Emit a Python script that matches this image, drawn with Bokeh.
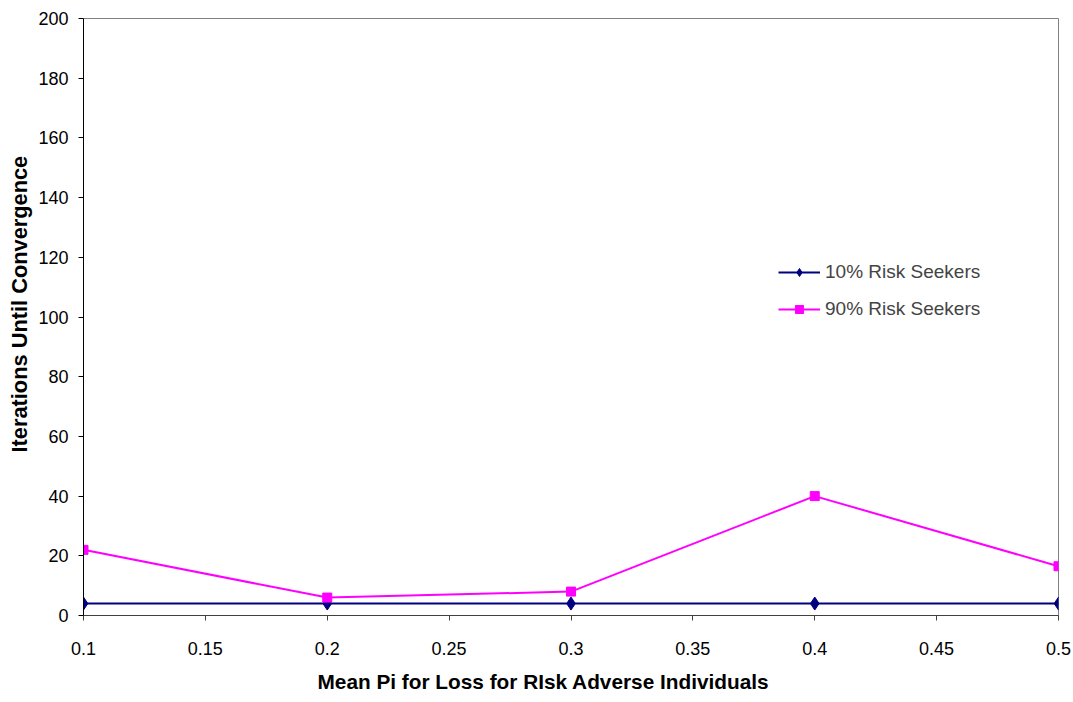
from bokeh.plotting import figure
from bokeh.models import Range1d, FixedTicker, Legend, LegendItem, Title
from bokeh.embed import file_html
from bokeh.resources import INLINE

x_vals = [0.1, 0.2, 0.3, 0.4, 0.5]
seek10 = [4, 4, 4, 4, 4]
seek90 = [22, 6, 8, 40, 16.5]
x_ticks = [0.1, 0.15, 0.2, 0.25, 0.3, 0.35, 0.4, 0.45, 0.5]
x_tick_labels = ["0.1", "0.15", "0.2", "0.25", "0.3", "0.35", "0.4", "0.45", "0.5"]
y_ticks = [0, 20, 40, 60, 80, 100, 120, 140, 160, 180, 200]
series_names = ["10% Risk Seekers", "90% Risk Seekers"]
x_title = "Mean Pi for Loss for RIsk Adverse Individuals"
y_title = "Iterations Until Convergence"

FONT = "Liberation Sans"

p = figure(width=1073, height=702, output_backend="svg", toolbar_location=None,
           x_range=Range1d(0.1, 0.5), y_range=Range1d(0, 200),
           min_border_left=0, min_border_right=15, min_border_top=18, min_border_bottom=0)
p.xgrid.visible = False
p.ygrid.visible = False
p.outline_line_color = "#808080"
p.outline_line_width = 1

p.xaxis.ticker = FixedTicker(ticks=x_ticks)
p.xaxis.major_label_overrides = {t: l for t, l in zip(x_ticks, x_tick_labels)}
p.yaxis.ticker = FixedTicker(ticks=y_ticks)
for ax in (p.xaxis, p.yaxis):
    ax.minor_tick_line_color = None
    ax.major_tick_in = 0
    ax.major_tick_out = 5
    ax.major_label_text_font = FONT
    ax.major_label_text_font_size = "18px"
    ax.major_label_text_color = "black"
p.xaxis.axis_line_color = "#404040"
p.xaxis.major_tick_line_color = "#404040"
p.yaxis.axis_line_color = "black"
p.yaxis.major_tick_line_color = "black"
p.xaxis.major_label_standoff = 21
p.yaxis.major_label_standoff = 10

xt = Title(text=x_title, align="left", offset=234, text_font=FONT, text_font_size="20.8px",
           text_font_style="bold", text_color="black", standoff=20)
p.add_layout(xt, "below")
yt = Title(text=y_title, align="left", offset=163, text_font=FONT, text_font_size="21.8px",
           text_font_style="bold", text_color="black", standoff=8)
p.add_layout(yt, "left")

l1 = p.line(x_vals, seek10, line_color="#000080", line_width=2)
m1 = p.scatter(x_vals, seek10, marker="diamond", size=13, fill_color="#000080", line_color="#000080")
l2 = p.line(x_vals, seek90, line_color="#FF00FF", line_width=2)
m2 = p.scatter(x_vals, seek90, marker="square", size=9, fill_color="#FF00FF", line_color="#FF00FF")

legend = Legend(items=[LegendItem(label=series_names[0], renderers=[l1, m1]),
                       LegendItem(label=series_names[1], renderers=[l2, m2])],
                location=(695, 295), border_line_color=None, background_fill_alpha=0,
                padding=0, margin=0, spacing=15, glyph_width=42, glyph_height=20,
                label_standoff=5, label_text_font=FONT, label_text_font_size="19px",
                label_height=20)
p.add_layout(legend)

open("out.html", "w").write(file_html(p, INLINE))
